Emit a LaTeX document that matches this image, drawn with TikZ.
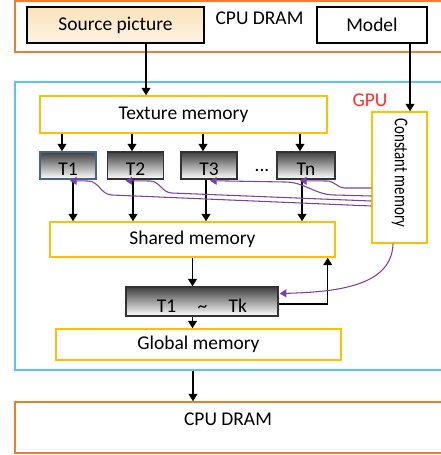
\documentclass[tikz,border=0pt]{standalone}
\usepackage{fontspec}
\setmainfont{Carlito}
\usepackage{tikz}
\usetikzlibrary{arrows.meta,calc}
\definecolor{cpuorange}{RGB}{237,125,49}
\definecolor{gpublue}{RGB}{95,195,240}
\definecolor{memyellow}{RGB}{255,192,0}
\definecolor{constpurple}{RGB}{120,65,170}
\definecolor{gpured}{RGB}{255,45,45}
\definecolor{srcpeach}{RGB}{250,226,186}
\definecolor{tborder}{RGB}{70,100,140}

\begin{document}
\begin{tikzpicture}[x=0.75pt, y=-0.75pt, font=\fontsize{14.6}{17}\selectfont,
  frame/.style={draw, line width=1.1pt, minimum width=333.75pt, inner sep=0pt},
  mem/.style={draw=memyellow, line width=1.1pt, fill=white, inner sep=0pt},
  thread/.style={draw=black!80, line width=1.1pt, top color=black!75, bottom color=white, minimum width=42pt, inner ysep=0pt, text height=17.6pt, text depth=2.6pt},
  arr/.style={-{Triangle[length=5.5pt,width=6.5pt]}, line width=1.1pt},
  carr/.style={-{Triangle[length=5pt,width=6pt]}, draw=constpurple, line width=0.8pt}]

\useasboundingbox (0,0) rectangle (441,455);

% frames
\node[frame, draw=cpuorange, minimum height=38.25pt] (host) at (237.5,26.5) {};
\node[frame, draw=gpublue, minimum height=216pt] (gpu) at (237.5,226) {};
\node[frame, draw=cpuorange, minimum height=38.25pt] (dram) at (237.5,427.5) {};
\node (hostlbl) at (259.5,18) {CPU DRAM};
\node[text=gpured] (gpulbl) at (370,100) {GPU};
\node (dramlbl) at (228,419) {CPU DRAM};

% host side
\node[draw, line width=1.1pt, top color=srcpeach, bottom color=srcpeach!40, minimum width=132.75pt, minimum height=27pt] (src) at (115.5,25) {Source picture};
\node[draw, line width=1.1pt, fill=white, minimum width=82.5pt, minimum height=27pt] (model) at (372,25) {Model};

% memories
\node[mem, minimum width=215.25pt, minimum height=27.75pt] (tex) at (183.5,114.5) {Texture memory};
\node[mem, minimum width=41.25pt, minimum height=98.25pt, font=\fontsize{11.2}{13}\selectfont] (const) at (399.5,177.5) {\rotatebox{-90}{\scalebox{1}[1.3]{Constant memory}\hspace{7pt}}};
\node[mem, minimum width=213.75pt, minimum height=26.25pt] (shared) at (192.5,239.5) {Shared memory};
\node[mem, minimum width=213.75pt, minimum height=23.25pt] (global) at (198.5,344.5) {Global memory};

% threads
\node[thread, draw=tborder] (t1) at (68,165.5) {T1};
\node[thread] (t2) at (135.5,165.5) {T2};
\node[thread] (t3) at (209,165.5) {T3};
\node[thread, minimum width=43.5pt] (tn) at (306,165.5) {Tn};
\node (dots) at (262,170) {...};
\node[thread, minimum width=114pt, text height=18.9pt, text depth=2.8pt] (tk) at (202,301.5) {T1\hspace{16pt}\textasciitilde\hspace{16pt}Tk};

% data flow
\coordinate (srcout) at ($(src.south)+(30.5,0)$);
\draw[arr] (srcout) -- (srcout |- tex.north);
\coordinate (modelout) at ($(model.south)+(38,0)$);
\draw[arr] (modelout) -- (modelout |- const.north);
\foreach \t/\dx in {t1/-6,t2/-3.5,t3/-6,tn/-6}
  \draw[arr] ($(\t.north |- tex.south)+(\dx,0)$) -- ($(\t.north)+(\dx,0)$);
\foreach \t/\dx in {t1/5,t2/-2.5,t3/-3,tn/-4}
  \draw[arr] ($(\t.south)+(\dx,0)$) -- ($(\t.south |- shared.north)+(\dx,0)$);
\draw[arr] (shared.south) -- (shared.south |- tk.north);
\draw[arr] (shared.south |- tk.south) -- (shared.south |- global.north);
\draw[arr] ($(tk.east)+(0,2.5)$) -| ($(shared.south east)+(-8,0)$);
\coordinate (gpuout) at (193,0);
\draw[arr] (gpu.south -| gpuout) -- (dram.north -| gpuout);

% constant memory reads
\draw[carr] ($(const.west)+(0,10.5)$) -- (345,188) to[out=180,in=0] (327,181) -- ($(tn.south)+(-6,1)$);
\draw[carr] ($(const.west)+(0,18.5)$) -- (335,195) to[out=180,in=0] (285,182) -- ($(t3.south)+(1,1)$);
\draw[carr] ($(const.west)+(0,23.5)$) -- (172,193) to[out=180,in=0] (150,181) -- ($(t2.south)+(-10,1)$);
\draw[carr] ($(const.west)+(0,28.5)$) -- (112,195) to[out=180,in=0] (88,181) -- ($(t1.south)+(2,1)$);
\draw[carr] ($(const.south)+(-6.5,0)$) .. controls (392,285) and (340,292) .. ($(tk.east)+(1,-8)$);
\end{tikzpicture}
\end{document}
